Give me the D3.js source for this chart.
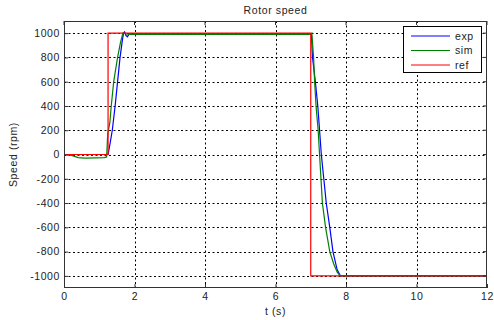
<!DOCTYPE html>
<html>
<head>
<meta charset="utf-8">
<script src="https://cdn.jsdelivr.net/npm/d3@7"></script>
<style>
  body { margin: 0; background: #fff; }
  svg { display: block; font-family: "Liberation Sans", Arial, sans-serif; }
  .grid line { stroke: #000; stroke-dasharray: 2,2.5; stroke-width: 1; }
  .lbl { font-size: 10.5px; fill: #222; letter-spacing: 0.6px; }
</style>
</head>
<body>
<svg id="chart" width="494" height="320"></svg>
<script>
// reference speed
const refT = [0, 1.25, 1.25, 7.0, 7.0, 12];
const refV = [0, 0, 1000, 1000, -1000, -1000];

// measured (exp)
const expT = [0, 1.25, 1.30, 1.37, 1.45, 1.52, 1.59, 1.66, 1.69, 1.72, 1.76, 1.80, 1.85, 2.0, 7.0, 7.02, 7.05, 7.13, 7.20, 7.25, 7.30, 7.37, 7.44, 7.54, 7.63, 7.75, 7.84, 12];
const expV = [0, 0, 80, 200, 400, 600, 800, 950, 1000, 1010, 980, 970, 995, 995, 995, 990, 800, 600, 400, 200, 0, -200, -400, -600, -800, -950, -1000, -1000];

// simulated (sim)
const simT = [0, 0.2, 0.4, 0.6, 0.9, 1.15, 1.21, 1.24, 1.30, 1.34, 1.41, 1.52, 1.60, 1.67, 1.75, 1.85, 7.0, 7.03, 7.08, 7.11, 7.15, 7.21, 7.25, 7.29, 7.33, 7.42, 7.54, 7.65, 7.75, 7.84, 12];
const simV = [0, -5, -25, -30, -28, -25, -20, 170, 260, 400, 600, 800, 920, 1000, 995, 990, 990, 1000, 800, 600, 400, 200, 0, -200, -400, -600, -800, -900, -970, -1000, -1000];

const xTicks = [0, 2, 4, 6, 8, 10, 12];
const yTicks = [-1000, -800, -600, -400, -200, 0, 200, 400, 600, 800, 1000];

const series = [
  { name: "exp", t: expT, v: expV, color: "#0000ff" },
  { name: "sim", t: simT, v: simV, color: "#008000" },
  { name: "ref", t: refT, v: refV, color: "#ff0000" }
];

const svg = d3.select("#chart");
const margin = { left: 64, right: 7, top: 21, bottom: 32 };
const W = 494, H = 320;

const x = d3.scaleLinear().domain([0, 12]).range([margin.left, W - margin.right]);
const y = d3.scaleLinear().domain([-1100, 1100]).range([H - margin.bottom, margin.top]);

// grid
const grid = svg.append("g").attr("class", "grid");
grid.selectAll(".gx").data(xTicks.slice(1, -1)).join("line")
  .attr("x1", d => Math.round(x(d)) + 0.5).attr("x2", d => Math.round(x(d)) + 0.5)
  .attr("y1", margin.top).attr("y2", H - margin.bottom);
grid.selectAll(".gy").data(yTicks).join("line")
  .attr("x1", margin.left).attr("x2", W - margin.right)
  .attr("y1", d => Math.round(y(d)) + 0.5).attr("y2", d => Math.round(y(d)) + 0.5);

// lines
const line = d3.line().x(d => x(d[0])).y(d => y(d[1]));
series.forEach(s => {
  svg.append("path")
    .datum(s.t.map((t, i) => [t, s.v[i]]))
    .attr("d", line)
    .attr("fill", "none")
    .attr("stroke", s.color)
    .attr("stroke-width", 1.2);
});

// axes (ticks inside, box on)
const fmt = d => String(d);
const xAxis = d3.axisBottom(x).tickValues(xTicks).tickFormat(fmt).tickSize(-4).tickPadding(5);
const yAxis = d3.axisLeft(y).tickValues(yTicks).tickFormat(fmt).tickSize(-4).tickPadding(4);

const gx = svg.append("g").attr("transform", `translate(0,${H - margin.bottom})`).call(xAxis);
const gy = svg.append("g").attr("transform", `translate(${margin.left},0)`).call(yAxis);
[gx, gy].forEach(g => {
  g.select(".domain").remove();
  g.selectAll("line").attr("stroke", "#333");
  g.selectAll("text").attr("class", "lbl").attr("font-family", null).attr("font-size", null);
});

svg.append("g").selectAll("line").data(xTicks).join("line")
  .attr("x1", d => x(d)).attr("x2", d => x(d))
  .attr("y1", margin.top).attr("y2", margin.top + 4).attr("stroke", "#333");
svg.append("g").selectAll("line").data(yTicks).join("line")
  .attr("x1", W - margin.right).attr("x2", W - margin.right - 4)
  .attr("y1", d => y(d)).attr("y2", d => y(d)).attr("stroke", "#333");

svg.append("rect")
  .attr("x", margin.left + 0.5).attr("y", margin.top + 0.5)
  .attr("width", W - margin.left - margin.right - 1)
  .attr("height", H - margin.top - margin.bottom - 1)
  .attr("fill", "none").attr("stroke", "#333");

// titles
svg.append("text").attr("class", "lbl")
  .attr("x", (margin.left + W - margin.right) / 2).attr("y", 14)
  .attr("text-anchor", "middle").text("Rotor speed");
svg.append("text").attr("class", "lbl")
  .attr("x", (margin.left + W - margin.right) / 2).attr("y", 315)
  .attr("text-anchor", "middle").text("t (s)");
svg.append("text").attr("class", "lbl")
  .attr("transform", `translate(17,${(margin.top + H - margin.bottom) / 2}) rotate(-90)`)
  .attr("text-anchor", "middle").text("Speed (rpm)");

// legend
const lg = svg.append("g").attr("transform", "translate(403,26)");
lg.append("rect").attr("x", 0.5).attr("y", 0.5).attr("width", 78).attr("height", 46)
  .attr("fill", "#fff").attr("stroke", "#000");
series.forEach((s, i) => {
  const yy = 10 + i * 14.5;
  lg.append("line").attr("x1", 8).attr("x2", 47).attr("y1", yy).attr("y2", yy)
    .attr("stroke", s.color).attr("stroke-width", 1.2);
  lg.append("text").attr("class", "lbl").attr("x", 52).attr("y", yy).attr("dy", "0.35em").text(s.name);
});
</script>
</body>
</html>
